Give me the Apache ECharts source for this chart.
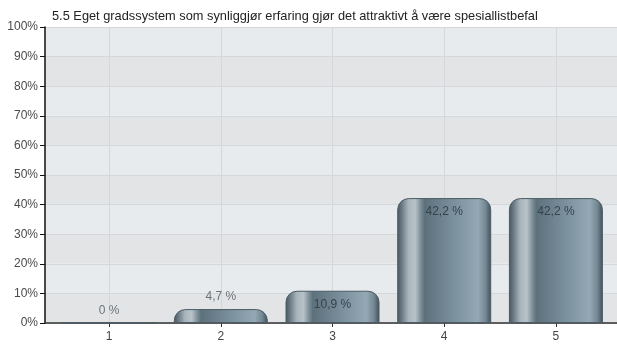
<!DOCTYPE html>
<html>
<head>
<meta charset="utf-8">
<script src="https://cdn.jsdelivr.net/npm/echarts@6/dist/echarts.min.js"></script>
<style>
  html, body { margin: 0; padding: 0; background: #ffffff; }
  #chart { width: 617px; height: 345px; }
</style>
</head>
<body>
<div id="chart"></div>
<script>
// Answer categories (scale 1–5) and share of responses in percent
const categories = [1, 2, 3, 4, 5];
const percentages = [0, 4.7, 10.9, 42.2, 42.2];
const yTicks = [0, 10, 20, 30, 40, 50, 60, 70, 80, 90, 100];
const titleText = '5.5 Eget gradssystem som synliggjør erfaring gjør det attraktivt å være spesiallistbefal';

const fmt = v => String(v).replace('.', ',') + ' %';

// Metallic look: dark edges, a bright streak on the left, fading lighter to the right
const barGradient = new echarts.graphic.LinearGradient(0, 0, 1, 0, [
  { offset: 0.00, color: '#44555e' },
  { offset: 0.04, color: '#62747e' },
  { offset: 0.12, color: '#a9b5bb' },
  { offset: 0.19, color: '#b8c3c8' },
  { offset: 0.25, color: '#7d8f99' },
  { offset: 0.29, color: '#5d717c' },
  { offset: 0.60, color: '#7a909c' },
  { offset: 0.86, color: '#94a9b4' },
  { offset: 0.94, color: '#748894' },
  { offset: 1.00, color: '#3f4f58' }
]);

const barData = categories.map((c, i) => {
  const v = percentages[i];
  const inside = v >= 10;
  return {
    value: [c, v],
    label: {
      position: inside ? 'insideTop' : 'top',
      distance: inside ? 8 : 6,
      color: inside ? '#34434c' : '#6d7478'
    }
  };
});

const chart = echarts.init(document.getElementById('chart'), null, { renderer: 'canvas' });
chart.setOption({
  animation: false,
  backgroundColor: '#ffffff',
  textStyle: { fontFamily: 'Liberation Sans, Arial, sans-serif' },
  title: {
    text: titleText,
    left: 47,
    top: 5,
    textStyle: { fontSize: 12.8, fontWeight: 'normal', color: '#222222', fontFamily: 'Liberation Sans, Arial, sans-serif' }
  },
  grid: { left: 45, right: 0, top: 27, bottom: 22, containLabel: false },
  xAxis: {
    type: 'value',
    min: 0.426,
    max: 5.547,
    axisLine: { show: true, onZero: false, lineStyle: { color: '#333333', width: 1.5 } },
    axisTick: { show: true, length: 4, customValues: categories, lineStyle: { color: '#333333' } },
    axisLabel: { customValues: categories, color: '#444444', fontSize: 12, margin: 8 },
    splitLine: { show: true, lineStyle: { color: '#d6d7da', width: 1 } }
  },
  yAxis: {
    type: 'value',
    min: 0,
    max: 100,
    interval: 10,
    axisLine: { show: true, lineStyle: { color: '#111111', width: 1.5 } },
    axisTick: { show: true, length: 5, lineStyle: { color: '#111111' } },
    axisLabel: {
      color: '#4a4a4a', fontSize: 12, margin: 7,
      formatter: v => yTicks.includes(v) ? v + '%' : ''
    },
    splitLine: { show: true, lineStyle: { color: '#d6d7da', width: 1 } },
    splitArea: { show: true, areaStyle: { color: ['#e3e4e6', '#e8ebee'] } }
  },
  series: [{
    type: 'bar',
    barWidth: 94,
    data: barData,
    itemStyle: {
      color: barGradient,
      borderRadius: [11, 11, 0, 0],
      borderColor: '#4b5c65',
      borderWidth: 1
    },
    label: {
      show: true,
      fontSize: 12,
      formatter: p => fmt(p.value[1])
    }
  }]
});
</script>
</body>
</html>
